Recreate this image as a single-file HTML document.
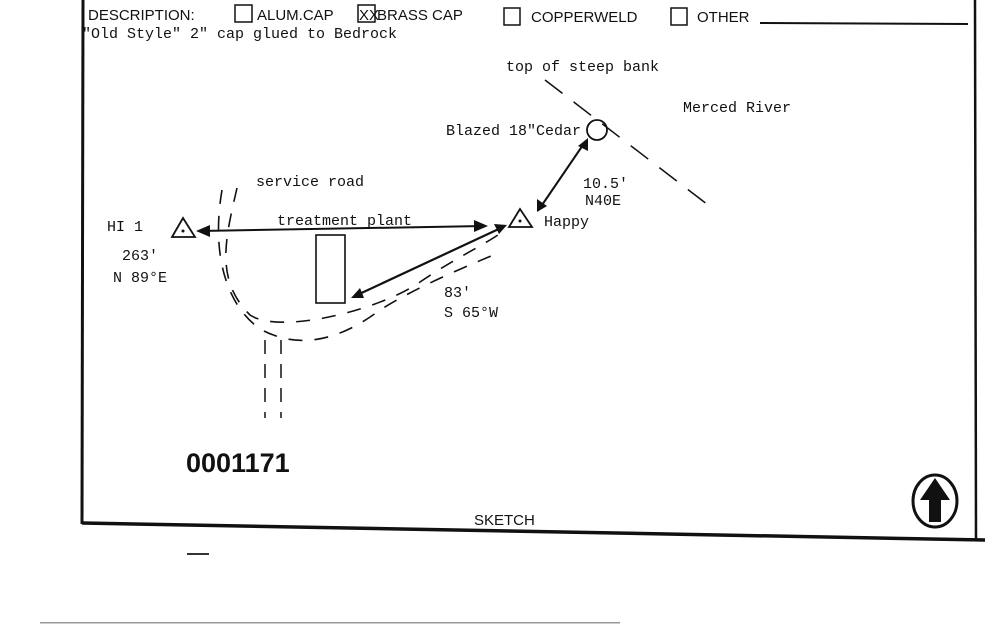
<!DOCTYPE html>
<html><head><meta charset="utf-8"><style>
html,body{margin:0;padding:0;background:#fff;width:999px;height:630px;overflow:hidden}
svg{display:block}
.m{font-family:"Liberation Mono",monospace;font-size:15px;fill:#111}
.s{font-family:"Liberation Sans",sans-serif;font-size:15px;fill:#111}
</style></head><body>
<svg width="999" height="630" viewBox="0 0 999 630" xmlns="http://www.w3.org/2000/svg">
<g stroke="#111" fill="none">
<line x1="83" y1="0" x2="82" y2="524" stroke-width="3"/>
<line x1="82" y1="523" x2="985" y2="540" stroke-width="3.5"/>
<line x1="975" y1="0" x2="976" y2="540" stroke-width="2.5"/>
<line x1="760" y1="23" x2="968" y2="24" stroke-width="2"/>
<rect x="235" y="5" width="17" height="17" stroke-width="1.5"/>
<rect x="358" y="5" width="17" height="17" stroke-width="1.5"/>
<rect x="504" y="8" width="16" height="17" stroke-width="1.5"/>
<rect x="671" y="8" width="16" height="17" stroke-width="1.5"/>
<line x1="545" y1="80" x2="712" y2="208" stroke-width="1.5" stroke-dasharray="22,14"/>
<circle cx="597" cy="130" r="10" stroke-width="1.8"/>
<polygon points="183,218 172,237 195,237" stroke-width="1.8"/>
<polygon points="520,209 509,227 532,227" stroke-width="1.8"/>
<line x1="200" y1="231" x2="484" y2="226" stroke-width="2"/>
<line x1="540" y1="208" x2="585" y2="142" stroke-width="2"/>
<line x1="355" y1="296" x2="503" y2="227" stroke-width="2.2"/>
<rect x="316" y="235" width="29" height="68" stroke-width="1.6"/>
<path d="M237 188 C 225 240, 215 280, 250 315 C 280 335, 380 310, 420 282 C 460 255, 485 245, 505 230" stroke-width="1.6" stroke-dasharray="14,12"/>
<path d="M222 190 C 210 260, 230 310, 262 330 C 300 350, 340 340, 380 310 C 420 285, 470 265, 498 253" stroke-width="1.6" stroke-dasharray="14,12"/>
<line x1="265" y1="340" x2="265" y2="418" stroke-width="1.5" stroke-dasharray="14,10"/>
<line x1="281" y1="340" x2="281" y2="418" stroke-width="1.5" stroke-dasharray="14,10"/>
<ellipse cx="935" cy="501" rx="22" ry="26" stroke-width="3"/>
</g>
<g fill="#111">
<polygon points="196,231 210,225 210,237"/>
<polygon points="488,226 474,220 474,232"/>
<polygon points="588,138 578,146 588,151"/>
<polygon points="537,212 537,199 547,206"/>
<polygon points="351,298 360,288 364,298"/>
<polygon points="507,225 494,224 499,234"/>
<circle cx="183" cy="231" r="1.5"/><circle cx="520" cy="221" r="1.5"/>
<polygon points="935,478 920,500 929,500 929,522 941,522 941,500 950,500"/>
</g>
<text class="s" x="88" y="20" font-size="14">DESCRIPTION:</text>
<text class="s" x="257" y="20" font-size="14">ALUM.CAP</text>
<text class="s" x="359" y="20" font-size="14">XX</text>
<text class="s" x="377" y="20">BRASS CAP</text>
<text class="s" x="531" y="22">COPPERWELD</text>
<text class="s" x="697" y="22">OTHER</text>
<text class="m" x="82" y="38">"Old Style"  2" cap glued to Bedrock</text>
<text class="m" x="506" y="71">top of steep bank</text>
<text class="m" x="683" y="112">Merced River</text>
<text class="m" x="446" y="135">Blazed 18"Cedar</text>
<text class="m" x="256" y="186">service road</text>
<text class="m" x="583" y="188">10.5'</text>
<text class="m" x="585" y="205">N40E</text>
<text class="m" x="107" y="231">HI 1</text>
<text class="m" x="277" y="225">treatment plant</text>
<text class="m" x="544" y="226">Happy</text>
<text class="m" x="122" y="260">263'</text>
<text class="m" x="113" y="282">N 89°E</text>
<text class="m" x="444" y="297">83'</text>
<text class="m" x="444" y="317">S 65°W</text>
<text x="186" y="472" style="font-family:'Liberation Sans',sans-serif;font-weight:bold;font-size:27px" fill="#111">0001171</text>
<text class="s" x="474" y="525">SKETCH</text>
<g fill="#333">
<rect x="187" y="553" width="22" height="2"/>
<rect x="40" y="622" width="580" height="1.5" opacity=".5"/>
</g>
</svg>
</body></html>
